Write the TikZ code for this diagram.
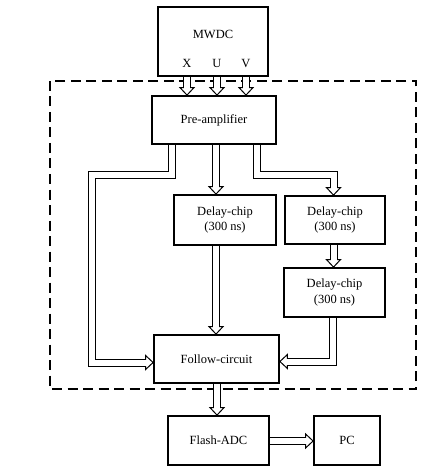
\documentclass[tikz,border=0pt]{standalone}
\usepackage{fontspec}
\setmainfont{Liberation Serif}
\usetikzlibrary{calc}
\pgfdeclarelayer{bg}
\pgfsetlayers{bg,main}
\tikzset{
 box/.style={draw, line width=1.8pt, fill=white, inner sep=0pt, align=center, font=\fontsize{12.5}{15.5}\selectfont},
 shaftout/.style={line width=8pt, line join=miter, line cap=butt},
 shaftin/.style={line width=6pt, white, line join=miter, line cap=butt},
 headtri/.style={draw, fill=white, line width=1pt, line join=miter},
 lbl/.style={font=\fontsize{12.5}{15}\selectfont, inner sep=0pt},
 dashbox/.style={line width=2.5pt, dash pattern=on 10pt off 5.5pt}
}
\newcommand\harrow[3]{%
 \coordinate (hb) at ($#2+(#3+180:7.5pt)$);
 \draw[shaftout] #1 (hb);
 \draw[headtri] #2 -- ($(hb)+(#3+90:7pt)$) -- ($(hb)+(#3-90:7pt)$) -- cycle;
 \draw[shaftin] #1 ($(hb)+(#3:1.2pt)$);
}
\begin{document}
\begin{tikzpicture}[x=1pt,y=-1pt]
\useasboundingbox (0,0) rectangle (431,470);
% boxes
\node[box, minimum width=110pt, minimum height=69pt] (mwdc) at (213,41.5) {};
\node[lbl] (mtext) at (213,34) {MWDC};
\node[lbl] (X) at (187,63.5) {X};
\node[lbl] (U) at (217,63.5) {U};
\node[lbl] (V) at (246,63.5) {V};
\node[box, minimum width=124pt, minimum height=48pt] (pre) at (214,120) {Pre-amplifier};
\node[box, minimum width=102pt, minimum height=50pt] (d1) at (225,220) {Delay-chip\\(300 ns)};
\node[box, minimum width=100pt, minimum height=48pt] (d2) at (335,220) {Delay-chip\\(300 ns)};
\node[box, minimum width=101pt, minimum height=49pt] (d3) at (334.5,292.5) {Delay-chip\\(300 ns)};
\node[box, minimum width=125pt, minimum height=48pt] (follow) at (216.5,359) {Follow-circuit};
\node[box, minimum width=101pt, minimum height=49pt] (flash) at (218.5,440.5) {Flash-ADC};
\node[box, minimum width=66pt, minimum height=49pt] (pc) at (347,440.5) {PC};
% bend points
\coordinate (l1) at (171.5,175);
\coordinate (l2) at (92,175);
\coordinate (l3) at (92,362.5);
\coordinate (m) at (216,0);
\coordinate (r1) at (256.5,175);
\coordinate (r2) at (333.5,175);
\coordinate (r3) at (333,361.5);
\coordinate (f) at (217,0);
\coordinate (p) at (0,441);
\begin{pgfonlayer}{bg}
\draw[dashbox] (50,81) rectangle (416,389);
\harrow{(mwdc.south -| X) -- }{(pre.north -| X)}{-90}
\harrow{(mwdc.south -| U) -- }{(pre.north -| U)}{-90}
\harrow{(mwdc.south -| V) -- }{(pre.north -| V)}{-90}
\harrow{(pre.south -| l1) -- (l1) -- (l2) -- (l3) -- }{(follow.west |- l3)}{0}
\harrow{(pre.south -| m) -- }{(d1.north -| m)}{-90}
\harrow{(d1.south -| m) -- }{(follow.north -| m)}{-90}
\harrow{(pre.south -| r1) -- (r1) -- (r2) -- }{(d2.north -| r2)}{-90}
\harrow{(d2.south -| r2) -- }{(d3.north -| r2)}{-90}
\harrow{(d3.south -| r3) -- (r3) -- }{(follow.east |- r3)}{180}
\harrow{(follow.south -| f) -- }{(flash.north -| f)}{-90}
\harrow{(flash.east |- p) -- }{(pc.west |- p)}{0}
\end{pgfonlayer}
\end{tikzpicture}
\end{document}
